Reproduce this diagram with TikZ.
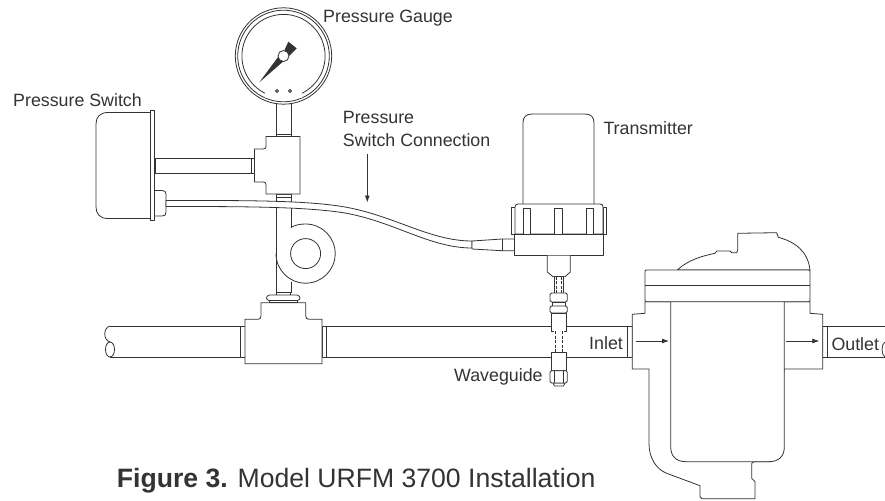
\documentclass[tikz,border=0pt]{standalone}
\usepackage{fontspec}
\setmainfont{Liberation Sans}
\usetikzlibrary{arrows.meta}
\definecolor{inkgray}{gray}{0.2}
\tikzset{
	part/.style={draw=inkgray, line width=0.8pt, fill=white, line join=round},
	wire/.style={draw=inkgray, line width=0.8pt, line join=round},
	callout/.style={anchor=base west, inner sep=0pt, text=inkgray, font=\fontsize{17.8}{22}\selectfont},
	flow/.style={draw=inkgray, line width=0.8pt, -{Latex[length=7pt, width=5pt]}},
}
\begin{document}
\begin{tikzpicture}[x=1pt, y=-1pt]
	\useasboundingbox (0,0) rectangle (885,500);
	\coordinate (G) at (283.5,56);
	\coordinate (C) at (305.6,253.6);
	% main line
	\draw[wire] (110,326) .. controls (103,328) and (103,340) .. (110,342);
	\draw[part] (110,349.5) ellipse (4.5 and 7.5);
	\draw[wire] (110,326) -- (240,326);
	\draw[wire] (110,357) -- (240,357);
	\draw[wire] (326,326.5) -- (627,326.5);
	\draw[wire] (326,357) -- (627,357);
	\draw[wire] (827.3,326.7) -- (885,326.7);
	\draw[wire] (827.3,357) -- (885,357);
	\draw[wire] (885,342) .. controls (881,344) and (881,355) .. (885,357);
	% tee on the line
	\draw[part] (240,326) rectangle (245,357);
	\draw[part] (322,326) rectangle (326,357);
	\draw[part] (245,319.3) -- (258,319.3) .. controls (260,319.3) and (261,318) .. (261,316) -- (261,302.7) -- (305.7,302.7) -- (305.7,316) .. controls (305.7,318) and (307,319.3) .. (309,319.3) -- (322,319.3) -- (322,363.7) -- (245,363.7) -- cycle;
	% riser and coil
	\draw[part] (276,103) rectangle (291,136.5);
	\draw[wire] (276,194) -- (276,293);
	\draw[wire] (291,194) -- (291,227.5);
	\draw[wire] (291,281.5) -- (291,293);
	\draw[wire] (276,253.6) .. controls (276,269.95) and (289.25,283.2) .. (305.6,283.2) .. controls (321.95,283.2) and (335.2,269.95) .. (335.2,253.6) .. controls (335.2,237.25) and (321.95,224) .. (305.6,224) .. controls (300,224) and (295,225) .. (291,227.5);
	\draw[wire] (C) circle (15);
	\draw[part] (276,292) rectangle (290.7,295);
	\draw[part] (269.5,295) -- (297,295) .. controls (301,296) and (301,300) .. (297,300.7) -- (269.5,300.7) .. controls (265.5,300) and (265.5,296) .. (269.5,295) -- cycle;
	\draw[part] (269,300.7) rectangle (297,302.7);
	% upper tee
	\draw[part] (276,134) rectangle (291,137);
	\draw[part] (276,194) rectangle (291,197);
	\draw[part] (155,158) rectangle (251,173);
	\draw[part] (251,158) rectangle (254.5,173);
	\draw[part] (266,136.5) -- (300,136.5) -- (300,194) -- (266,194) -- (266,184.5) .. controls (266,183) and (265,182) .. (263.5,182) -- (254.5,182) -- (254.5,149) -- (263.5,149) .. controls (265,149) and (266,148) .. (266,146.5) -- cycle;
	% pressure switch
	\draw[part] (150,112.5) -- (108,112.5) .. controls (100,112.5) and (96,117) .. (96,124) -- (96,207) .. controls (96,214) and (100,218.5) .. (108,218.5) -- (150,218.5);
	\draw[part] (150,110.5) rectangle (154.5,220.5);
	\draw[part] (154.5,190.5) -- (162,190.5) .. controls (165,190.5) and (166,192) .. (166,194) -- (166,212) .. controls (166,215) and (165,216) .. (162,216) -- (154.5,216) -- cycle;
	% tube to the transmitter
	\draw[part] (166,200.5) .. controls (240,200.5) and (305,200) .. (345,207) .. controls (395,216) and (430,241) .. (472,241) -- (472,248) .. controls (430,248) and (395,222) .. (345,213) .. controls (305,206.5) and (240,206.5) .. (166,206.5) -- cycle;
	\draw[inkgray, line width=1.6pt] (166,206.5) -- (179,206.5);
	% gauge
	\draw[part] (G) circle (48.2);
	\draw[wire] (G) circle (45.8);
	\draw[wire] (G) circle (41.6);
	\fill[white] (265,88) rectangle (302,98);
	\draw[wire] (277,91) circle (1.5);
	\draw[wire] (290,91) circle (1.5);
	\fill[inkgray] (259.3,82.3) -- (278.3,56.7) -- (283,61.7) -- cycle;
	\fill[inkgray] (284.5,50) -- (288.3,41.7) -- (296.7,48.3) -- (289,56) -- cycle;
	\draw[part] (G) circle (5.5);
	% transmitter
	\draw[part] (523,204) -- (523,123) .. controls (523,117) and (526,114) .. (532,114) -- (585,114) .. controls (591,114) and (594,117) .. (594,123) -- (594,204);
	\draw[part] (511,207) -- (515,207) -- (515,234) -- (511,234) -- cycle;
	\draw[part] (603,207) -- (606.5,207) -- (606.5,234) -- (603,234) -- cycle;
	\draw[part] (515,234) -- (515,207) .. controls (515,205) and (516,204) .. (518,204) -- (600,204) .. controls (602,204) and (603,205) .. (603,207) -- (603,234) -- cycle;
	\draw[part] (523,208) rectangle (530,234);
	\draw[part] (554.7,208) rectangle (562.3,234);
	\draw[part] (586.7,208) rectangle (593.7,234);
	\draw[part] (514.5,234) rectangle (603,255.7);
	\draw[part] (472,241) -- (502,239) -- (514.5,239) -- (514.5,250.7) -- (502,250.7) -- (472,249) -- cycle;
	\draw[wire] (502,239) -- (502,250.7);
	\draw[part] (547.3,255.7) -- (547.3,272) -- (553,276.7) -- (565,276.7) -- (570.3,272) -- (570.3,255.7);
	% waveguide
	\draw[part] (554,276.7) rectangle (563.5,293);
	\draw[wire, dash pattern=on 3pt off 1.5pt] (556,276.7) -- (556,293);
	\draw[wire, dash pattern=on 3pt off 1.5pt] (561.5,276.7) -- (561.5,293);
	\draw[part, rounded corners=1.5pt] (550,293) rectangle (567.3,302);
	\draw[part] (552,302) rectangle (565.5,306);
	\draw[part, rounded corners=1.5pt] (550,306) rectangle (567.3,313);
	\draw[part] (551.7,313) rectangle (566.7,331);
	\fill[white] (554,331) rectangle (563.5,352);
	\draw[wire, dash pattern=on 3pt off 1.5pt] (555,331) -- (555,352);
	\draw[wire, dash pattern=on 3pt off 1.5pt] (562.5,331) -- (562.5,352);
	\draw[part] (551.7,352) rectangle (566.7,370.7);
	\draw[part] (553,383) -- (554.5,386) -- (563.5,386) -- (565,383) -- cycle;
	\draw[part, rounded corners=1.5pt] (550,370.7) rectangle (567.3,383);
	\draw[wire] (554.5,370.7) -- (554.5,383);
	\draw[wire] (563,370.7) -- (563,383);
	% strainer
	\draw[part] (627,326.7) rectangle (632.3,357);
	\draw[part] (822.7,326.7) rectangle (827.3,357);
	\draw[part] (677.3,270) .. controls (688,260) and (702,256) .. (715,253.3) -- (716.7,251) -- (730,251) -- (731.7,252.7) -- (736.7,252.7) -- (737.7,250) -- (737.7,233.3) -- (776.7,232.7) -- (778.3,237.3) .. controls (796,242) and (808,252) .. (810,270) -- cycle;
	\draw[part] (645,301.7) -- (645,313.3) -- (632.3,314.3) -- (632.3,369) -- (649,369) -- (649,443.3) .. controls (649,458) and (656,469) .. (666.7,473.3) -- (700,485.7) -- (700,496.7) -- (702,498.7) -- (755,498.7) -- (755,481.7) -- (751.7,478.3) -- (751.7,463.3) -- (754,461.7) -- (770,461.7) -- (784.3,369) -- (822.7,369) -- (822.7,314.3) -- (810,313.3) -- (810,301.7) -- cycle;
	\draw[part] (670.7,301.7) -- (670.7,447) .. controls (670.7,456) and (676,461.7) .. (686,461.7) -- (769,461.7) .. controls (779,461.7) and (784.3,456) .. (784.3,447) -- (784.3,301.7);
	\draw[part, rounded corners=1pt] (645,301.7) -- (645,270) -- (810,270) -- (810,301.7) -- cycle;
	\draw[wire] (645,285.7) -- (810,285.7);
	\coordinate (InA) at (635.7,341);
	\coordinate (InB) at (669,341);
	\coordinate (OutA) at (785.7,341);
	\coordinate (OutB) at (819.3,341);
	\draw[flow] (InA) -- (InB);
	\draw[flow] (OutA) -- (OutB);
	% labels
	\node[callout] (gaugelabel) at (323,22.7) {Pressure Gauge};
	\node[callout] (switchlabel) at (13,106.7) {Pressure Switch};
	\node[callout] (connlabela) at (342.7,124) {Pressure};
	\node[callout] (connlabelb) at (342.7,146) {Switch Connection};
	\node[callout] (translabel) at (603.3,135) {Transmitter};
	\node[callout] (wavelabel) at (454,381.7) {Waveguide};
	\node[callout] (inletlabel) at (589,349.5) {Inlet};
	\node[callout] (outletlabel) at (831.3,350) {Outlet};
	\node[callout, font=\fontsize{26.6}{30}\selectfont] (figlabel) at (116.7,487.3) {\textbf{Figure 3.} Model URFM 3700 Installation};
	\coordinate (ConnA) at (367.3,154);
	\coordinate (ConnB) at (367.3,202.5);
	\draw[flow] (ConnA) -- (ConnB);
\end{tikzpicture}
\end{document}
